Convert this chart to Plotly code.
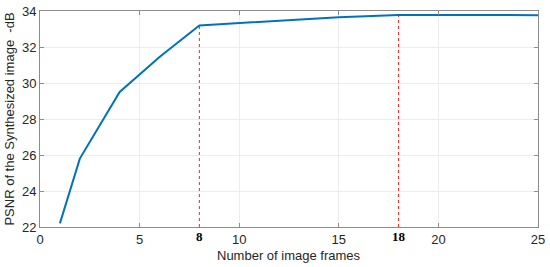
import plotly.graph_objects as go

# PSNR vs number of image frames
frames = [1, 2, 4, 6, 8, 12, 15, 18, 20, 25]
psnr = [22.2, 25.8, 29.5, 31.45, 33.2, 33.45, 33.65, 33.78, 33.78, 33.77]

marked_frames = [8, 18]
marked_labels = ['8', '18']

y_min = 22

fig = go.Figure()

# red dashed markers down to the axis
for f in marked_frames:
    fig.add_trace(go.Scatter(
        x=[f, f],
        y=[y_min, psnr[frames.index(f)]],
        mode='lines',
        line=dict(color='#ff2020', width=1, dash='dot'),
        hoverinfo='skip',
        showlegend=False
    ))

fig.add_trace(go.Scatter(
    x=frames,
    y=psnr,
    mode='lines',
    line=dict(color='#0072BD', width=2),
    showlegend=False
))

# invisible trace for the extra axis carrying the bold ticks
fig.add_trace(go.Scatter(x=marked_frames, y=[y_min, y_min], xaxis='x2',
                         mode='markers', marker=dict(opacity=0),
                         hoverinfo='skip', showlegend=False))

axis_font = dict(family='Arial', size=13, color='#262626')

fig.update_layout(
    width=550,
    height=267,
    margin=dict(l=40, r=12, t=11, b=40),
    plot_bgcolor='white',
    paper_bgcolor='white',
    xaxis=dict(
        range=[0, 25],
        tickvals=[0, 5, 10, 15, 20, 25],
        automargin=False,
        showgrid=True, gridcolor='#ececec', gridwidth=1,
        showline=True, linecolor='#8c8c8c', linewidth=1, mirror='ticks',
        ticks='inside', ticklen=4, tickcolor='#8c8c8c',
        tickfont=axis_font,
        zeroline=False,
    ),
    xaxis2=dict(
        range=[0, 25],
        overlaying='x',
        side='bottom',
        automargin=False,
        tickvals=marked_frames,
        ticktext=['<b>%s</b>' % t for t in marked_labels],
        tickfont=dict(family='Liberation Serif', size=13, color='black'),
        showgrid=False, showline=False, zeroline=False, ticks='',
    ),
    yaxis=dict(
        range=[22, 34],
        dtick=2,
        automargin=False,
        showgrid=True, gridcolor='#ececec', gridwidth=1,
        showline=True, linecolor='#8c8c8c', linewidth=1, mirror='ticks',
        ticks='inside', ticklen=4, tickcolor='#8c8c8c',
        tickfont=axis_font,
        zeroline=False,
        title=dict(text='PSNR of the Synthesized image&nbsp; -dB', font=axis_font, standoff=4),
    ),
)

# x title placed under the tick labels
fig.add_annotation(text='Number of image frames', xref='paper', yref='paper',
                   x=0.5, y=-0.134, yanchor='middle', showarrow=False,
                   font=axis_font)

# drop the default page margin so the figure sits at the window's corner
fig.write_html("out.html", config={'displayModeBar': False},
               post_script="document.body.style.margin='0';")
